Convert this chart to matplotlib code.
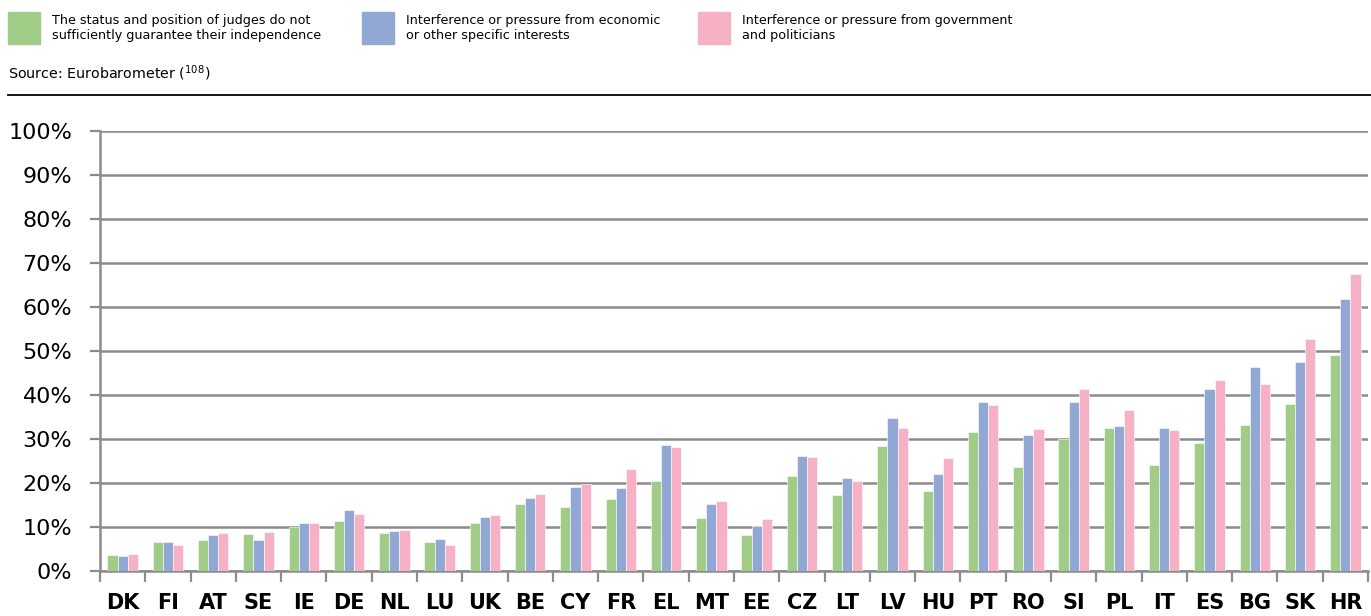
import matplotlib.pyplot as plt
import numpy as np
from matplotlib.patches import Rectangle
from matplotlib.lines import Line2D
from matplotlib.ticker import FuncFormatter, MultipleLocator

# Countries, ordered as in the chart
countries = ['DK', 'FI', 'AT', 'SE', 'IE', 'DE', 'NL', 'LU', 'UK', 'BE', 'CY', 'FR', 'EL', 'MT',
             'EE', 'CZ', 'LT', 'LV', 'HU', 'PT', 'RO', 'SI', 'PL', 'IT', 'ES', 'BG', 'SK', 'HR']

# Share of respondents (%) per reason
status = [3.6, 6.5, 7.1, 8.4, 9.9, 11.4, 8.6, 6.6, 10.9, 15.2, 14.6, 16.4, 20.4, 12.0,
          8.2, 21.6, 17.2, 28.3, 18.2, 31.7, 23.7, 29.9, 32.4, 24.0, 29.0, 33.1, 38.0, 49.2]
economic = [3.5, 6.5, 8.2, 7.0, 11.0, 13.9, 9.0, 7.2, 12.3, 16.6, 19.0, 18.9, 28.7, 15.2,
            10.2, 26.2, 21.1, 34.8, 22.1, 38.4, 30.9, 38.4, 33.0, 32.4, 41.3, 46.4, 47.5, 61.9]
government = [3.8, 5.9, 8.6, 8.8, 10.8, 13.0, 9.3, 5.9, 12.8, 17.6, 19.8, 23.1, 28.1, 16.0,
              11.8, 26.0, 20.4, 32.4, 25.7, 37.8, 32.2, 41.3, 36.7, 32.0, 43.3, 42.6, 52.8, 67.6]

labels = ['The status and position of judges do not\nsufficiently guarantee their independence',
          'Interference or pressure from economic\nor other specific interests',
          'Interference or pressure from government\nand politicians']
colors = ['#a0cc88', '#91a8d4', '#f6b2c4']

fig = plt.figure(figsize=(13.71, 6.16), dpi=100)
W, H = 1371, 616

ax = fig.add_axes([100 / W, 45 / H, 1268 / W, 440 / H])

x = np.arange(len(countries))
bw = 0.225
for i, (vals, c) in enumerate(zip([status, economic, government], colors)):
    ax.bar(x + (i - 1) * bw, vals, width=bw, color=c, edgecolor='white', linewidth=0.4, zorder=3)

ax.set_xlim(-0.5, len(countries) - 0.5)
ax.set_ylim(0, 100)
ax.yaxis.set_major_locator(MultipleLocator(10))
ax.yaxis.set_major_formatter(FuncFormatter(lambda v, p: f'{v:.0f}%'))
ax.grid(axis='y', color='#8c8c8c', linewidth=1.8, zorder=0)

ax.set_xticks(x)
ax.set_xticklabels(countries)
ax.set_xticks(np.arange(-0.5, len(countries), 1), minor=True)
ax.tick_params(axis='x', which='major', length=0, pad=16, labelsize=15)
ax.tick_params(axis='x', which='minor', length=8, width=1.6, color='#8c8c8c')
ax.tick_params(axis='y', length=7, width=1.6, color='#8c8c8c', labelsize=16, pad=13)
for lab in ax.get_xticklabels():
    lab.set_fontweight('semibold')

for s in ['top', 'right']:
    ax.spines[s].set_visible(False)
for s in ['left', 'bottom']:
    ax.spines[s].set_color('#8c8c8c')
    ax.spines[s].set_linewidth(1.8)

# legend above the chart
lx = [8, 362, 698]
for px, lab, c in zip(lx, labels, colors):
    fig.add_artist(Rectangle((px / W, 1 - 44 / H), 32 / W, 32 / H, color=c, transform=fig.transFigure))
    fig.text((px + 44) / W, 1 - 28 / H, lab, fontsize=9.2, va='center', ha='left', linespacing=1.15)

fig.text(8 / W, 1 - 73 / H, 'Source: Eurobarometer ($^{108}$)', fontsize=10.3, va='center', ha='left')
fig.add_artist(Line2D([8 / W, 1], [1 - 95 / H, 1 - 95 / H], color='black', linewidth=1.3,
                      transform=fig.transFigure))

fig.savefig('out.png', dpi=100)
